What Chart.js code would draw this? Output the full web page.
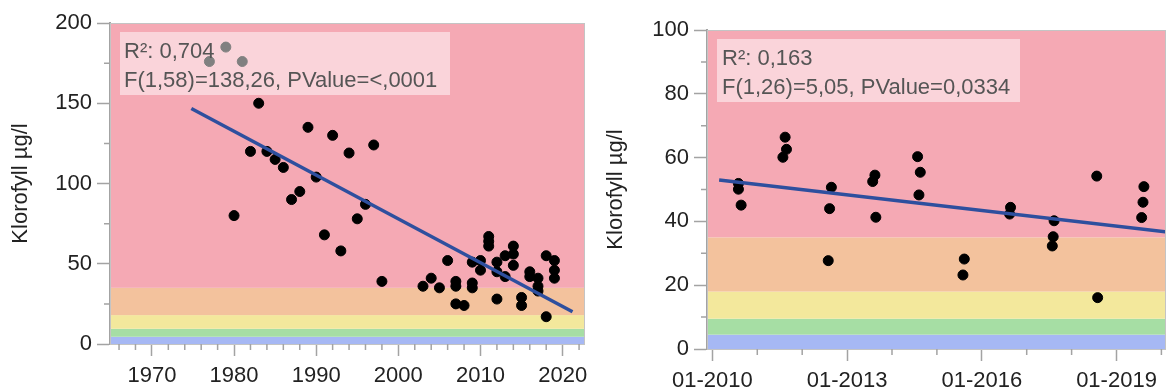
<!DOCTYPE html>
<html>
<head>
<meta charset="utf-8">
<script src="https://cdn.jsdelivr.net/npm/chart.js@4.4.0/dist/chart.umd.min.js"></script>
<style>
  body { margin: 0; background: #fff; }
  #wrap { position: relative; width: 1171px; height: 392px; overflow: hidden; }
  .panel { position: absolute; top: 0; height: 392px; }
</style>
</head>
<body>
<div id="wrap">
  <div class="panel" style="left:0;width:590px"><canvas id="chartOne"></canvas></div>
  <div class="panel" style="left:590px;width:581px"><canvas id="chartTwo"></canvas></div>
</div>
<script>
'use strict';

// left panel: yearly samples 1977-2019
let yearsOne = [1977, 1979, 1981, 1980, 1982, 1983, 1984, 1985, 1986, 1987, 1988, 1989, 1990, 1991, 1992,
  1993, 1994, 1995, 1996, 1997, 1998, 2003, 2004, 2005, 2006, 2007, 2007, 2007, 2008, 2009, 2009, 2009,
  2010, 2010, 2011, 2011, 2011, 2012, 2012, 2012, 2013, 2013, 2014, 2014, 2014, 2015, 2015, 2016, 2016,
  2017, 2017, 2017, 2018, 2018, 2019, 2019, 2019];
let valuesOne = [176, 185, 176, 80, 120, 150, 120, 115, 110, 90, 95, 135, 104, 68, 130,
  58, 119, 78, 87, 124, 39, 36, 41, 35, 52, 39, 36, 25, 24, 38, 35, 51,
  52, 46, 67, 64, 61, 51, 45, 28, 55, 42, 61, 56, 49, 29, 24, 45, 42,
  41, 36, 33, 55, 17, 52, 46, 41];
let fitXOne = [1974.8, 2021.2];
let fitYOne = [146.7, 20.1];
let xTicksOne = [1966, 1968, 1970, 1972, 1974, 1976, 1978, 1980, 1982, 1984, 1986, 1988, 1990, 1992, 1994,
  1996, 1998, 2000, 2002, 2004, 2006, 2008, 2010, 2012, 2014, 2016, 2018, 2020, 2022];
let xLabelsOne = [1970, 1980, 1990, 2000, 2010, 2020];
let yTicksOne = [0, 25, 50, 75, 100, 125, 150, 175, 200];
let yLabelsOne = [0, 50, 100, 150, 200];
let statsOne = ['R\u00b2: 0,704', 'F(1,58)=138,26, PValue=<,0001'];

// right panel: sampling dates as decimal years 2010-2019
let datesTwo = [2010.58, 2010.58, 2010.64, 2011.62, 2011.65, 2011.57, 2012.65, 2012.61, 2012.58,
  2013.62, 2013.57, 2013.64, 2014.57, 2014.63, 2014.60, 2015.61, 2015.58, 2016.64, 2016.62,
  2017.61, 2017.59, 2017.57, 2018.56, 2018.58, 2019.61, 2019.59, 2019.56];
let valuesTwo = [51.9, 50.1, 45.1, 66.4, 62.6, 60.1, 50.7, 44.0, 27.7,
  54.5, 52.5, 41.3, 60.3, 55.4, 48.3, 28.2, 23.2, 44.4, 42.3,
  40.2, 35.2, 32.3, 54.2, 16.1, 50.9, 46.0, 41.2];
let fitXTwo = [2010.15, 2020.1];
let fitYTwo = [53.0, 36.7];
let xTicksTwo = [2010, 2011, 2012, 2013, 2014, 2015, 2016, 2017, 2018, 2019, 2020];
let xLabelsTwo = [2010, 2013, 2016, 2019];
let yTicksTwo = [0, 10, 20, 30, 40, 50, 60, 70, 80, 90, 100];
let yLabelsTwo = [0, 20, 40, 60, 80, 100];
let statsTwo = ['R\u00b2: 0,163', 'F(1,26)=5,05, PValue=0,0334'];

// classification bands (upper limits), same for both panels
let bandLimits = [0, 4.5, 9.5, 18, 35, 1000];
let bandColors = ['#a6b8f4', '#a6dea4', '#f3e89c', '#f3c29d', '#f5a9b4'];

const FONT = "'Liberation Sans', Arial, Helvetica, sans-serif";
const AXIS_GRAY = '#a3a3a3';

let bandsPlugin = {
  id: 'bands',
  beforeDatasetsDraw(chart) {
    let c = chart.ctx;
    let area = chart.chartArea;
    let y = chart.scales.y;
    c.save();
    c.beginPath();
    c.rect(area.left, area.top, area.right - area.left, area.bottom - area.top);
    c.clip();
    for (let i = 0; i < bandColors.length; i++) {
      let top = y.getPixelForValue(bandLimits[i + 1]);
      let bottom = y.getPixelForValue(bandLimits[i]);
      c.fillStyle = bandColors[i];
      c.fillRect(area.left, top, area.right - area.left, bottom - top);
    }
    c.restore();
  }
};

// translucent stats box over the points, then the frame and the short minor ticks
let extrasPlugin = {
  id: 'extras',
  afterDatasetsDraw(chart, args, opts) {
    let c = chart.ctx;
    let area = chart.chartArea;
    c.save();
    c.fillStyle = 'rgba(255,255,255,0.5)';
    c.fillRect(area.left + 10, area.top + 9, opts.boxWidth, 63);
    c.fillStyle = '#555';
    c.font = '22px ' + FONT;
    c.textBaseline = 'middle';
    c.fillText(opts.lines[0], area.left + opts.textX, area.top + 29);
    c.fillText(opts.lines[1], area.left + opts.textX, area.top + 58);
    c.restore();
  },
  afterDraw(chart, args, opts) {
    let c = chart.ctx;
    let area = chart.chartArea;
    c.save();
    c.strokeStyle = '#c4c4c4';
    c.lineWidth = 1;
    c.strokeRect(area.left + 0.5, area.top + 0.5, area.right - area.left, area.bottom - area.top);
    c.strokeStyle = AXIS_GRAY;
    c.lineWidth = 1.5;
    c.beginPath();
    let x = chart.scales.x;
    x.ticks.forEach(function (t) {
      if (!opts.xLabels.includes(t.value)) {
        let px = x.getPixelForValue(t.value);
        c.moveTo(px, area.bottom);
        c.lineTo(px, area.bottom + 6);
      }
    });
    let y = chart.scales.y;
    y.ticks.forEach(function (t) {
      if (!opts.yLabels.includes(t.value)) {
        let py = y.getPixelForValue(t.value);
        c.moveTo(area.left, py);
        c.lineTo(area.left - 6, py);
      }
    });
    c.stroke();
    c.restore();
  }
};

function makeChart(canvasId, cfg) {
  let points = cfg.xs.map(function (v, i) {
    return { x: v, y: cfg.ys[i] };
  });
  let fit = cfg.fitX.map(function (v, i) {
    return { x: v, y: cfg.fitY[i] };
  });

  return new Chart(document.getElementById(canvasId), {
    type: 'scatter',
    data: {
      datasets: [{
        data: points,
        backgroundColor: '#000',
        borderColor: '#000',
        pointRadius: 5,
        pointHoverRadius: 5,
        order: 2
      },
      {
        type: 'line',
        data: fit,
        borderColor: '#2e4f9e',
        borderWidth: 3.5,
        pointRadius: 0,
        fill: false,
        order: 1
      }]
    },
    options: {
      responsive: true,
      maintainAspectRatio: false,
      animation: false,
      events: [],
      layout: { padding: cfg.padding },
      plugins: {
        legend: { display: false },
        tooltip: { enabled: false },
        extras: { lines: cfg.stats, boxWidth: cfg.boxWidth, textX: cfg.textX, xLabels: cfg.xLabels, yLabels: cfg.yLabels }
      },
      scales: {
        x: {
          type: 'linear',
          min: cfg.xMin,
          max: cfg.xMax,
          afterBuildTicks: function (axis) {
            axis.ticks = cfg.xTicks.map(function (v) { return { value: v }; });
          },
          afterFit: function (axis) { axis.height = cfg.xHeight; },
          border: { color: AXIS_GRAY, width: 2 },
          grid: {
            drawOnChartArea: false,
            tickLength: 12,
            tickWidth: 1.5,
            tickColor: function (ctx) {
              return ctx.tick && cfg.xLabels.includes(ctx.tick.value) ? AXIS_GRAY : 'rgba(0,0,0,0)';
            }
          },
          ticks: {
            autoSkip: false,
            maxRotation: 0,
            padding: 7,
            color: '#222',
            font: { family: FONT, size: 22 },
            callback: function (value) {
              return cfg.xLabels.includes(value) ? cfg.xFormat(value) : '';
            }
          }
        },
        y: {
          min: 0,
          max: cfg.yMax,
          afterBuildTicks: function (axis) {
            axis.ticks = cfg.yTicks.map(function (v) { return { value: v }; });
          },
          afterFit: function (axis) { axis.width = cfg.yWidth; },
          border: { color: AXIS_GRAY, width: 2 },
          grid: {
            drawOnChartArea: false,
            tickLength: 13,
            tickWidth: 1.5,
            tickColor: function (ctx) {
              return ctx.tick && cfg.yLabels.includes(ctx.tick.value) ? AXIS_GRAY : 'rgba(0,0,0,0)';
            }
          },
          ticks: {
            autoSkip: false,
            padding: 5,
            color: '#222',
            font: { family: FONT, size: 22 },
            callback: function (value) {
              return cfg.yLabels.includes(value) ? String(value) : '';
            }
          },
          title: {
            display: true,
            text: 'Klorofyll \u00b5g/l',
            color: '#222',
            font: { family: FONT, size: 22 },
            padding: { top: cfg.titlePad, bottom: 0 }
          }
        }
      }
    },
    plugins: [bandsPlugin, extrasPlugin]
  });
}

makeChart('chartOne', {
  xs: yearsOne, ys: valuesOne, fitX: fitXOne, fitY: fitYOne,
  xMin: 1964.9, xMax: 2022.6, yMax: 200,
  xTicks: xTicksOne, xLabels: xLabelsOne, yTicks: yTicksOne, yLabels: yLabelsOne,
  xFormat: function (v) { return String(v); },
  stats: statsOne, boxWidth: 330, textX: 14,
  padding: { top: 23, right: 5, left: 0, bottom: 0 },
  xHeight: 48, yWidth: 110, titlePad: 8
});

makeChart('chartTwo', {
  xs: datesTwo, ys: valuesTwo, fitX: fitXTwo, fitY: fitYTwo,
  xMin: 2009.88, xMax: 2020.08, yMax: 100,
  xTicks: xTicksTwo, xLabels: xLabelsTwo, yTicks: yTicksTwo, yLabels: yLabelsTwo,
  xFormat: function (v) { return '01-' + v; },
  stats: statsTwo, boxWidth: 303, textX: 15,
  padding: { top: 30, right: 0, left: 0, bottom: 0 },
  xHeight: 43, yWidth: 117, titlePad: 13
});
</script>
</body>
</html>
